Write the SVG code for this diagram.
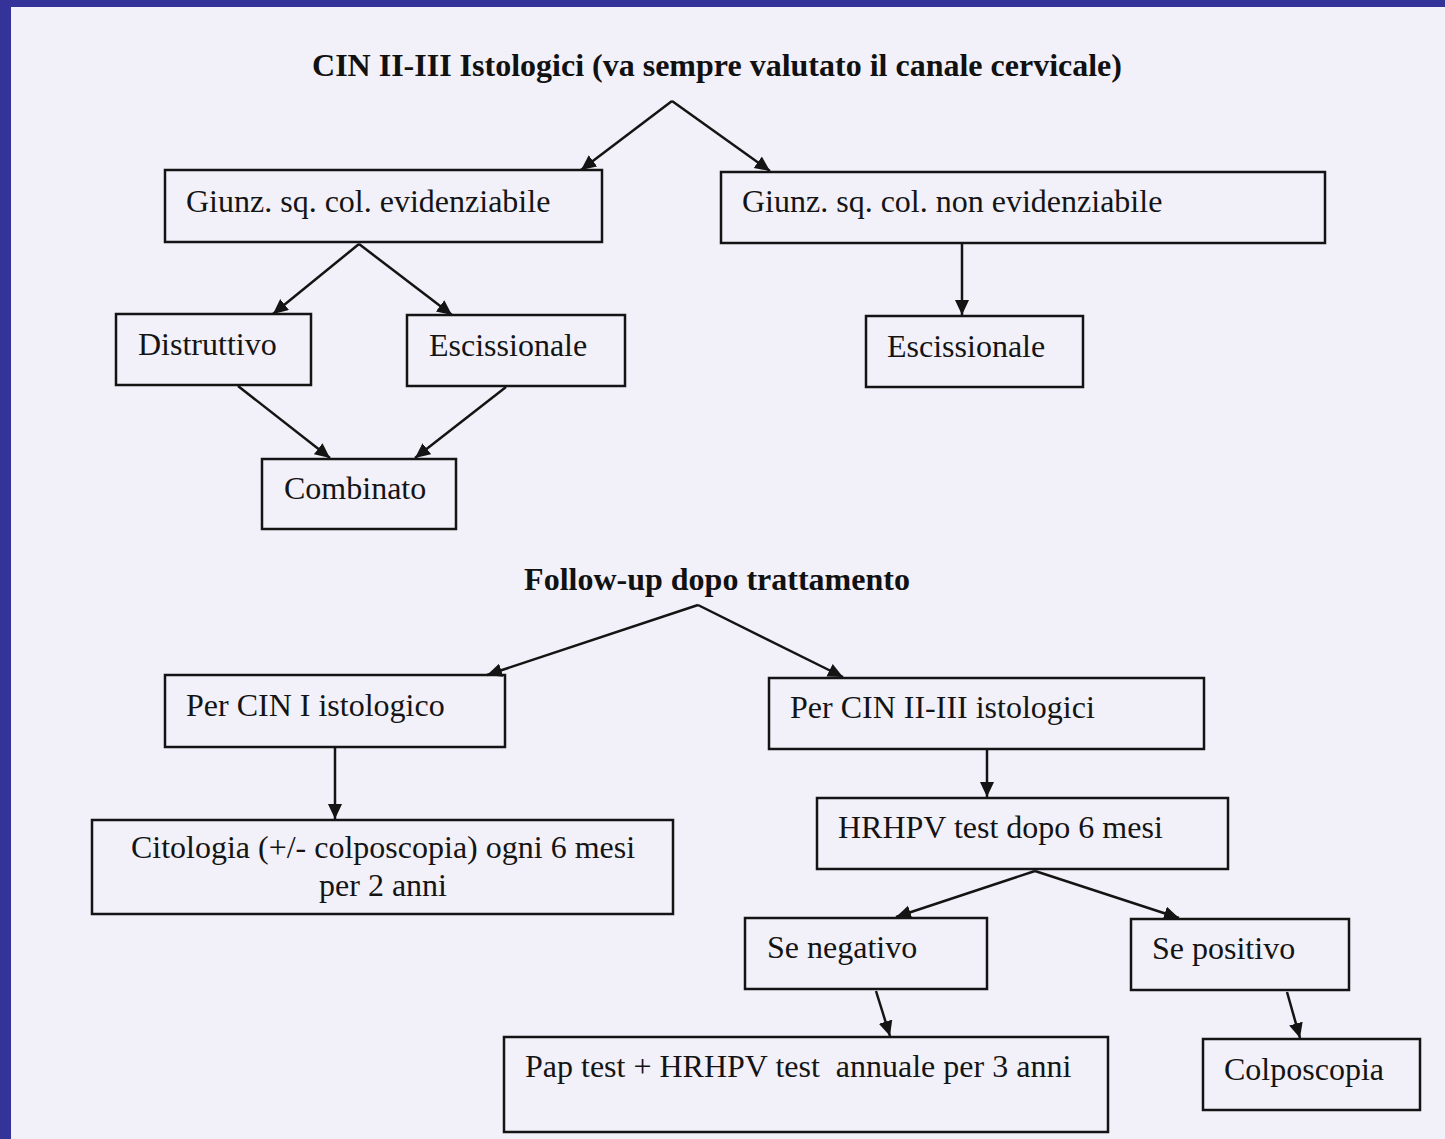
<svg xmlns="http://www.w3.org/2000/svg" width="1445" height="1139" viewBox="0 0 1445 1139">
<defs>
<style>
.box{fill:none;stroke:#141414;stroke-width:2.5}
.t{font-family:"Liberation Serif","Times New Roman",serif;font-size:32px;fill:#141414}
.h{font-family:"Liberation Serif","Times New Roman",serif;font-size:32px;font-weight:bold;fill:#111;text-anchor:middle}
.c{fill:none;stroke:#141414;stroke-width:2.5;marker-end:url(#ah)}
</style>
<marker id="ah" markerUnits="userSpaceOnUse" markerWidth="18" markerHeight="16" refX="15" refY="7" orient="auto">
<path d="M0,0 L15,7 L0,14 Z" fill="#141414"/>
</marker>
</defs>
<rect x="0" y="0" width="1445" height="1139" fill="#f2f0f8"/>
<rect x="0" y="0" width="1445" height="7" fill="#333399"/>
<rect x="0" y="0" width="11" height="1139" fill="#333399"/>

<text class="h" x="717" y="76">CIN II-III Istologici (va sempre valutato il canale cervicale)</text>
<text class="h" x="717" y="590">Follow-up dopo trattamento</text>

<g id="connectors">
<polyline class="c" points="672,101 581,170" />
<polyline class="c" points="672,101 770,171" />
<polyline class="c" points="359,244 273,314" />
<polyline class="c" points="359,244 452,315" />
<polyline class="c" points="962,244 962,315" />
<polyline class="c" points="238,386 330,458" />
<polyline class="c" points="506,387 415,458" />
<polyline class="c" points="698,605 487,675" />
<polyline class="c" points="698,605 843,677" />
<polyline class="c" points="335,748 335,819" />
<polyline class="c" points="987,750 987,797" />
<polyline class="c" points="1035,871 896,917" />
<polyline class="c" points="1035,871 1179,918" />
<polyline class="c" points="876,991 890,1036" />
<polyline class="c" points="1287,992 1300,1038" />
</g>

<g id="n-giunz-evid"><rect class="box" x="165" y="170" width="437" height="72"/><text class="t" x="186" y="212">Giunz. sq. col. evidenziabile</text></g>
<g id="n-giunz-non"><rect class="box" x="721" y="172" width="604" height="71"/><text class="t" x="742" y="212">Giunz. sq. col. non evidenziabile</text></g>
<g id="n-distruttivo"><rect class="box" x="116" y="314" width="195" height="71"/><text class="t" x="138" y="355">Distruttivo</text></g>
<g id="n-escissionale-1"><rect class="box" x="407" y="315" width="218" height="71"/><text class="t" x="429" y="356">Escissionale</text></g>
<g id="n-escissionale-2"><rect class="box" x="866" y="316" width="217" height="71"/><text class="t" x="887" y="357">Escissionale</text></g>
<g id="n-combinato"><rect class="box" x="262" y="459" width="194" height="70"/><text class="t" x="284" y="499">Combinato</text></g>
<g id="n-cin1"><rect class="box" x="165" y="675" width="340" height="72"/><text class="t" x="186" y="716">Per CIN I istologico</text></g>
<g id="n-cin23"><rect class="box" x="769" y="678" width="435" height="71"/><text class="t" x="790" y="718">Per CIN II-III istologici</text></g>
<g id="n-citologia"><rect class="box" x="92" y="820" width="581" height="94"/><text class="t" x="383" y="858" text-anchor="middle">Citologia (+/- colposcopia) ogni 6 mesi</text><text class="t" x="383" y="896" text-anchor="middle">per 2 anni</text></g>
<g id="n-hrhpv"><rect class="box" x="817" y="798" width="411" height="71"/><text class="t" x="838" y="838">HRHPV test dopo 6 mesi</text></g>
<g id="n-negativo"><rect class="box" x="745" y="918" width="242" height="71"/><text class="t" x="767" y="958">Se negativo</text></g>
<g id="n-positivo"><rect class="box" x="1131" y="919" width="218" height="71"/><text class="t" x="1152" y="959">Se positivo</text></g>
<g id="n-pap"><rect class="box" x="504" y="1037" width="604" height="95"/><text class="t" x="525" y="1077" xml:space="preserve">Pap test + HRHPV test  annuale per 3 anni</text></g>
<g id="n-colposcopia"><rect class="box" x="1203" y="1039" width="217" height="71"/><text class="t" x="1224" y="1080">Colposcopia</text></g>
</svg>
